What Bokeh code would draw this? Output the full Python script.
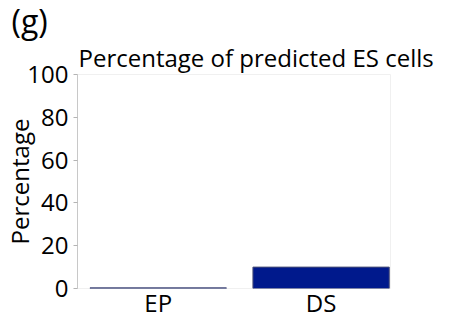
from bokeh.plotting import figure
from bokeh.models import Range1d, Title, FixedTicker
from bokeh.embed import file_html
from bokeh.resources import INLINE

# Data
categories = ["EP", "DS"]
percentages = [0.3, 10.0]
y_ticks = [0, 20, 40, 60, 80, 100]

FONT = "Open Sans"
BAR_COLOR = "#00198c"

xs = list(range(len(categories)))

p = figure(
    width=449, height=321,
    x_range=Range1d(-0.4955, 1.426), y_range=Range1d(0, 100),
    output_backend="svg", toolbar_location=None,
    min_border_left=72, min_border_right=59, min_border_top=74, min_border_bottom=31,
    background_fill_color="white", border_fill_color="white",
)

p.vbar(x=xs, top=percentages, width=0.837, bottom=0,
       fill_color=BAR_COLOR, line_color="#4b5078", line_width=1)

# Panel tag and chart title
p.title.text = "(g)"
p.title.text_font = FONT
p.title.text_font_size = "32px"
p.title.text_font_style = "normal"
p.title.text_color = "black"
p.title.align = "left"
p.title.offset = -66
p.title.standoff = -7
p.add_layout(Title(text="Percentage of predicted ES cells", text_font=FONT,
                   text_font_size="24px", text_font_style="normal", text_color="black",
                   align="left", offset=1, standoff=1), "above")

# Axes
p.xaxis.ticker = FixedTicker(ticks=xs)
p.xaxis.major_label_overrides = {i: c for i, c in enumerate(categories)}
p.xaxis.axis_line_color = None
p.xaxis.major_tick_line_color = None
p.xaxis.minor_tick_line_color = None
p.xaxis.major_tick_out = 0
p.xaxis.major_tick_in = 0
p.xaxis.major_label_text_font = FONT
p.xaxis.major_label_text_font_size = "24px"
p.xaxis.major_label_text_color = "black"
p.xaxis.major_label_standoff = -3

p.yaxis.ticker = FixedTicker(ticks=y_ticks)
p.yaxis.axis_label = "Percentage"
p.yaxis.axis_label_text_font = FONT
p.yaxis.axis_label_text_font_size = "24px"
p.yaxis.axis_label_text_font_style = "normal"
p.yaxis.axis_label_text_color = "black"
p.yaxis.axis_label_standoff = -12
p.yaxis.axis_line_color = "#c8c8c8"
p.yaxis.major_tick_line_color = "#b4b4b4"
p.yaxis.major_tick_out = 4
p.yaxis.major_tick_in = 0
p.yaxis.minor_tick_line_color = None
p.yaxis.major_label_text_font = FONT
p.yaxis.major_label_text_font_size = "24px"
p.yaxis.major_label_text_color = "black"
p.yaxis.major_label_standoff = 5

p.grid.visible = False
p.outline_line_color = "#f0f0f0"

open("out.html", "w").write(file_html(p, INLINE))
